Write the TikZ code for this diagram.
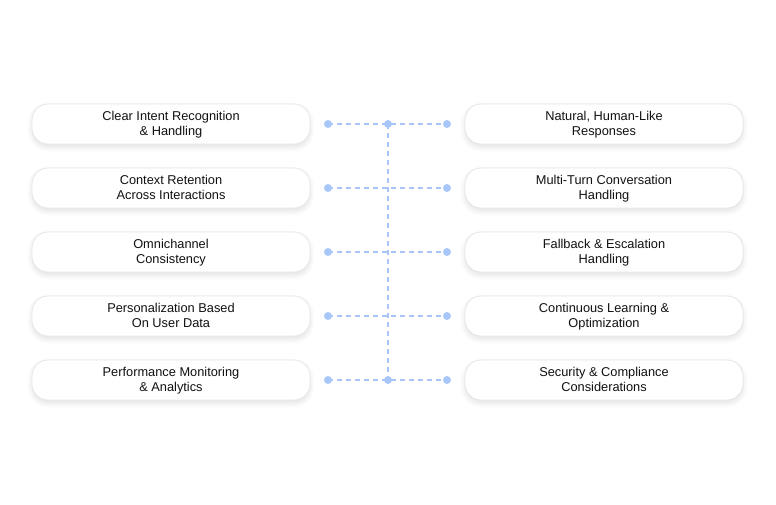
\documentclass[tikz,border=0pt]{standalone}
\usepackage{fontspec}
\setmainfont{Liberation Sans}
\usetikzlibrary{shadows.blur}
\definecolor{dotblue}{HTML}{A9C6FA}
\definecolor{boxborder}{HTML}{E6E6E6}
\definecolor{txt}{HTML}{111111}
\newcommand\cardlines[2]{\parbox[t]{270pt}{\centering #1\\#2}}
\begin{document}
\begin{tikzpicture}[x=1pt,y=-1pt,
  card/.style={draw=boxborder,line width=0.8pt,fill=white,rounded corners=16pt,
    minimum width=278pt,minimum height=40pt,inner sep=0pt,text height=13.2pt,text depth=20pt,
    text=txt,font=\fontsize{12.8}{15.2}\selectfont,
    blur shadow={shadow xshift=0pt,shadow yshift=-3pt,shadow blur steps=8,shadow opacity=12,shadow blur radius=5pt}},
  dot/.style={circle,fill=dotblue,inner sep=0pt,minimum size=8pt},
  link/.style={draw=dotblue,line width=1.2pt,dash pattern=on 5pt off 4pt}]
\useasboundingbox (0,0) rectangle (776,504);
\node[card] (l1) at (171,124) {\cardlines{Clear Intent Recognition}{\& Handling}};
\node[card] (l2) at (171,188) {\cardlines{Context Retention}{Across Interactions}};
\node[card] (l3) at (171,252) {\cardlines{Omnichannel}{Consistency}};
\node[card] (l4) at (171,316) {\cardlines{Personalization Based}{On User Data}};
\node[card] (l5) at (171,380) {\cardlines{Performance Monitoring}{\& Analytics}};
\node[card] (r1) at (604,124) {\cardlines{Natural, Human-Like}{Responses}};
\node[card] (r2) at (604,188) {\cardlines{Multi-Turn Conversation}{Handling}};
\node[card] (r3) at (604,252) {\cardlines{Fallback \& Escalation}{Handling}};
\node[card] (r4) at (604,316) {\cardlines{Continuous Learning \&}{Optimization}};
\node[card] (r5) at (604,380) {\cardlines{Security \& Compliance}{Considerations}};
\foreach \i/\y in {1/124,2/188,3/252,4/316,5/380}{
  \coordinate (a\i) at (328,\y);
  \coordinate (b\i) at (447,\y);
  \coordinate (m\i) at (388,\y);
  \draw[link] (a\i) -- (b\i);
}
\draw[link] (m1) -- (m5);
\foreach \i in {1,...,5}{
  \node[dot] (da\i) at (a\i) {};
  \node[dot] (db\i) at (b\i) {};
}
\node[dot] (dm1) at (m1) {};
\node[dot] (dm5) at (m5) {};
\end{tikzpicture}
\end{document}
